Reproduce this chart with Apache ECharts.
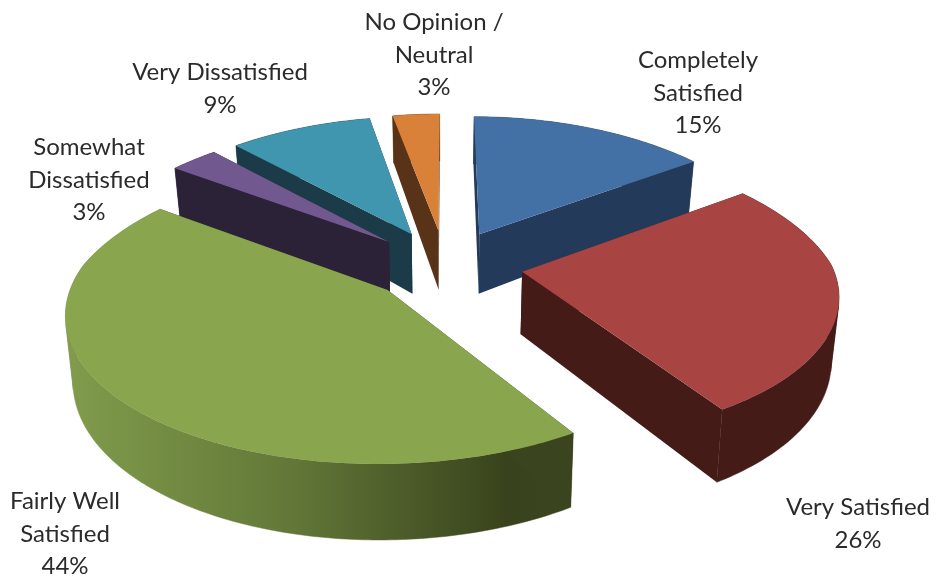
<!DOCTYPE html>
<html>
<head>
<meta charset="utf-8">
<style>html,body{margin:0;padding:0;background:#fff}#c{width:937px;height:580px}</style>
<script src="https://cdn.jsdelivr.net/npm/echarts@6/dist/echarts.min.js"></script>
</head>
<body>
<div id="c"></div>
<script>
var categories = ['Completely Satisfied', 'Very Satisfied', 'Fairly Well Satisfied', 'Somewhat Dissatisfied', 'Very Dissatisfied', 'No Opinion / Neutral'];
var labelLines = ['Completely\nSatisfied', 'Very Satisfied', 'Fairly Well\nSatisfied', 'Somewhat\nDissatisfied', 'Very Dissatisfied', 'No Opinion /\nNeutral'];
var percentages = [15, 26, 44, 3, 9, 3];

var topColors = ['#4371a6', '#a84543', '#89a54e', '#71588f', '#3f96ae', '#d98138'];
var faceColors = ['#243a5a', '#451b18', '#3a441f', '#2c2238', '#1a3b47', '#593317'];
var labelAnchors = [[698, 93], [858, 524], [65, 534], [89, 180], [220, 89], [434, 55]];

// Perspective model of the exploded 3D pie
var CX = 445.5, CY = 265, RX = 310, RX_BACK_SLOPE = 13, RY = 142, PERSP = 0.14, EXPLODE = 0.25, DEPTH = 62, DEPTH_SLOPE = 12, BASE_SHRINK = 0.98;
var total = percentages.reduce(function (a, b) { return a + b; }, 0);

function spanX(wy) { return RX + (wy < 0 ? RX_BACK_SLOPE * wy : 0); }
function top3d(wx, wy) {
  var d = 1 - PERSP * wy;
  return [CX + spanX(wy) * wx / d, CY + RY * wy / d];
}
function base3d(wx, wy) {
  var d = 1 - PERSP * wy;
  return [CX + BASE_SHRINK * spanX(wy) * wx / d, CY + RY * wy / d + DEPTH + DEPTH_SLOPE * wy];
}
function sliceGeometry(i) {
  var before = 0;
  for (var k = 0; k < i; k++) before += percentages[k];
  var a0 = before / total * 2 * Math.PI, a1 = (before + percentages[i]) / total * 2 * Math.PI, mid = (a0 + a1) / 2;
  var ox = EXPLODE * Math.sin(mid), oy = -EXPLODE * Math.cos(mid);
  var n = Math.max(6, Math.ceil(percentages[i] * 4)), rim = [];
  for (var j = 0; j <= n; j++) {
    var a = a0 + (a1 - a0) * j / n;
    rim.push([ox + Math.sin(a), oy - Math.cos(a)]);
  }
  return { tip: [ox, oy], rim: rim, depthKey: oy };
}
function radialFace(tip, end, fill, rank) {
  return {
    type: 'polygon', z2: rank,
    shape: { points: [top3d(tip[0], tip[1]), top3d(end[0], end[1]), base3d(end[0], end[1]), base3d(tip[0], tip[1])] },
    style: { fill: fill }
  };
}
function facing(p, q) {
  var pts = [top3d(p[0], p[1]), top3d(q[0], q[1]), base3d(q[0], q[1]), base3d(p[0], p[1])], s = 0;
  for (var i = 0; i < 4; i++) {
    var a = pts[i], b = pts[(i + 1) % 4];
    s += a[0] * b[1] - b[0] * a[1];
  }
  return s >= 0 ? 1 : -1;
}
// outer wall, split where it turns around at the silhouette so each part is a simple polygon
function outerWalls(rim, fill, rank) {
  var runs = [], cur = null;
  for (var j = 0; j < rim.length - 1; j++) {
    var f = facing(rim[j], rim[j + 1]);
    if (!cur || cur.f !== f) { cur = { f: f, pts: [rim[j]] }; runs.push(cur); }
    cur.pts.push(rim[j + 1]);
  }
  return runs.map(function (run, idx) {
    var pts = run.pts.map(function (r) { return top3d(r[0], r[1]); });
    for (var k = run.pts.length - 1; k >= 0; k--) pts.push(base3d(run.pts[k][0], run.pts[k][1]));
    return { type: 'polygon', z2: rank + idx, shape: { points: pts }, style: { fill: fill, stroke: fill, lineWidth: 0.5 } };
  });
}
function wallGradient(i) {
  if (i !== 2) return faceColors[i];
  // the large slice's outer wall is lit from the left
  return new echarts.graphic.LinearGradient(60, 0, 570, 0, [
    { offset: 0, color: '#819d4c' },
    { offset: 0.45, color: '#637838' },
    { offset: 0.88, color: '#38421c' },
    { offset: 1, color: '#3b4520' }
  ], true);
}
var order = percentages.map(function (_, i) { return i; }).sort(function (a, b) {
  return sliceGeometry(a).depthKey - sliceGeometry(b).depthKey;
});

function renderItem(params, api) {
  var i = api.value(0);
  var g = sliceGeometry(i);
  var rank = order.indexOf(i) * 1000;
  var first = g.rim[0], last = g.rim[g.rim.length - 1];
  var backEnd = first[1] < last[1] ? first : last, frontEnd = first[1] < last[1] ? last : first;
  var children = [radialFace(g.tip, backEnd, faceColors[i], rank + 1)]
    .concat(outerWalls(g.rim, wallGradient(i), rank + 2))
    .concat([radialFace(g.tip, frontEnd, faceColors[i], rank + 20)]);
  var topPts = [top3d(g.tip[0], g.tip[1])].concat(g.rim.map(function (r) { return top3d(r[0], r[1]); }));
  children.push({
    type: 'polygon', z2: rank + 500,
    shape: { points: topPts },
    style: { fill: topColors[i] }
  });
  children.push({
    type: 'text', z2: 9000,
    style: {
      x: labelAnchors[i][0], y: labelAnchors[i][1],
      text: labelLines[i] + '\n' + api.value(1) + '%',
      fill: '#2b2b2b', font: '24px Lato, sans-serif', lineHeight: 32.5,
      align: 'center', verticalAlign: 'middle'
    }
  });
  return { type: 'group', children: children };
}

var chart = echarts.init(document.getElementById('c'), null, { renderer: 'canvas', width: 937, height: 580 });
chart.setOption({
  animation: false,
  backgroundColor: '#fff',
  series: [{
    type: 'custom',
    coordinateSystem: 'none',
    renderItem: renderItem,
    silent: true,
    data: percentages.map(function (v, i) { return { name: categories[i], value: [i, v] }; })
  }]
});
</script>
</body>
</html>
